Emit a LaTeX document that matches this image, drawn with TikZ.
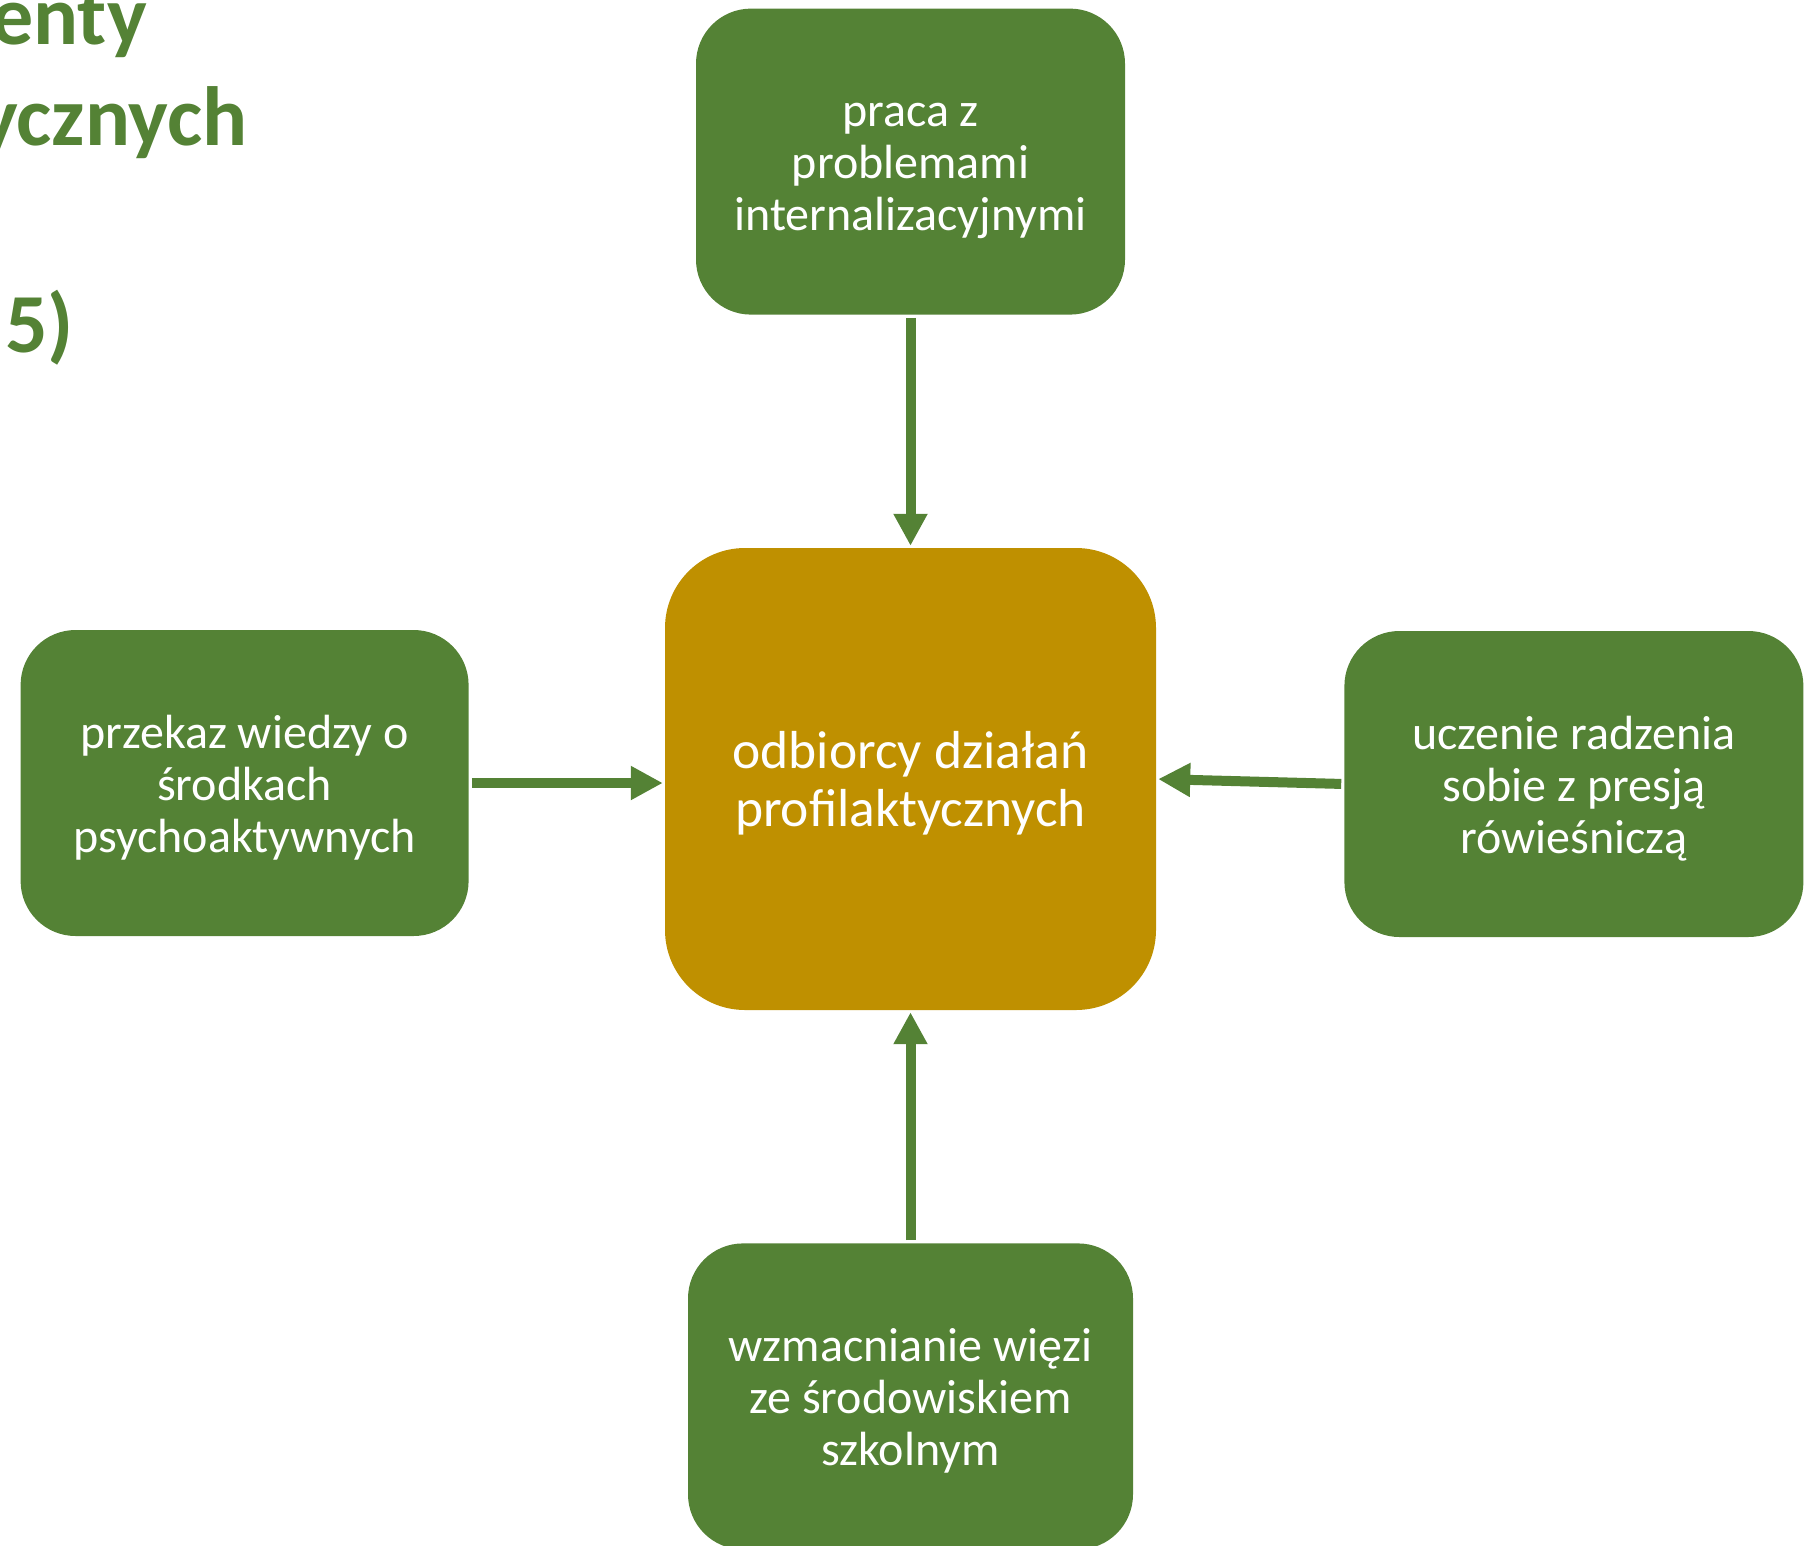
\documentclass[tikz,border=0pt]{standalone}
\usepackage{fontspec}
\setmainfont{Carlito}
\usetikzlibrary{positioning, arrows.meta}
\definecolor{zielony}{HTML}{548235}
\definecolor{zloty}{HTML}{BF9000}
\tikzset{
	box/.append style={
		fill=zielony,
		text=white,
		align = center,
		rounded corners=55pt,
		minimum width=448pt,
		minimum height=306pt,
		inner sep=0pt,
		text height=150pt,
		text depth=12pt,
		font={\fontsize{48pt}{52pt}\selectfont}
	},
	hub/.append style={
		fill=zloty,
		text=white,
		align = center,
		rounded corners=80pt,
		minimum width=491pt,
		minimum height=462pt,
		inner sep=0pt,
		text height=106pt,
		text depth=12pt,
		font={\fontsize{53.5pt}{58pt}\selectfont}
	},
	arr/.append style={
		draw=zielony,
		line width=10pt,
		-{Triangle[length=32pt,width=32pt]},
		shorten <=3pt,
		shorten >=2pt
	},
	tytul/.append style={
		text=zielony,
		anchor=base east,
		inner sep=0pt,
		font={\fontsize{84pt}{100pt}\selectfont\bfseries}
	}
}

\begin{document}
\begin{tikzpicture}[x=1pt, y=-1pt]
\useasboundingbox (0,0) rectangle (1804,1545);

% tytul (uciety z lewej)
\node(t1)[tytul] at (147,44) {enty};
\node(t2)[tytul] at (248,145) {ycznych};
\node(t3)[tytul] at (74,352) {5)};

\node(odb)[hub] at (910.5,779) {odbiorcy działań\\profilaktycznych};

\node(praca)[box, above = 233pt of odb, minimum width=429pt]{praca z\\problemami\\internalizacyjnymi};
\node(przekaz)[box, left = 196pt of odb, yshift=-4pt]{przekaz wiedzy o\\środkach\\psychoaktywnych};
\node(uczenie)[box, right = 188pt of odb, yshift=-5pt, minimum width=459pt]{uczenie radzenia\\sobie z presją\\rówieśniczą};
\node(wzmac)[box, below = 233pt of odb, minimum width=445pt]{wzmacnianie więzi\\ze środowiskiem\\szkolnym};

\draw[arr] (praca) -- (odb);
\draw[arr] (przekaz.east) -- (odb.west |- przekaz.east);
\draw[arr] (uczenie.west) -- (odb.east);
\draw[arr] (wzmac) -- (odb);

\end{tikzpicture}
\end{document}
